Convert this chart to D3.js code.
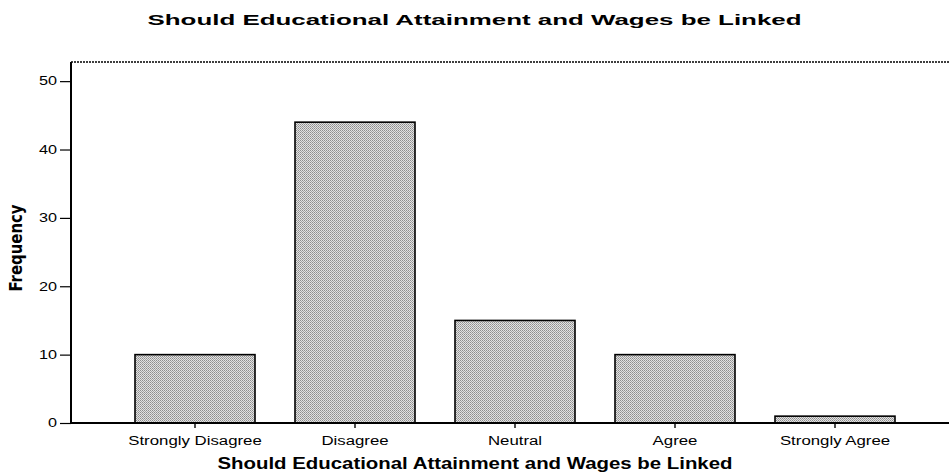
<!DOCTYPE html>
<html>
<head>
<meta charset="utf-8">
<script src="https://cdn.jsdelivr.net/npm/d3@7"></script>
<style>
  body { margin: 0; background: #fff; }
  svg { display: block; }
</style>
</head>
<body>
<svg width="949" height="473"></svg>
<script>
const categories = ['Strongly Disagree', 'Disagree', 'Neutral', 'Agree', 'Strongly Agree'];
const frequencies = [10, 44, 15, 10, 1];
const yTicks = [0, 10, 20, 30, 40, 50];
const titleText = 'Should Educational Attainment and Wages be Linked';

const width = 949, height = 473;
const margin = { top: 62, left: 71, bottom: 423 };

const svg = d3.select('svg');

// dotted grey fill like the old print
const defs = svg.append('defs');
const pat = defs.append('pattern')
  .attr('id', 'dots')
  .attr('patternUnits', 'userSpaceOnUse')
  .attr('width', 2)
  .attr('height', 2);
pat.append('rect').attr('width', 2).attr('height', 2).attr('fill', '#e2e2e2');
pat.append('rect').attr('width', 1).attr('height', 1).attr('fill', '#8e8e8e');
pat.append('rect').attr('x', 1).attr('y', 1).attr('width', 1).attr('height', 1).attr('fill', '#a4a4a4');

// plot runs past the right edge of the picture
const x = d3.scaleBand()
  .domain(categories)
  .range([margin.left, 959])
  .paddingInner(0.25)
  .paddingOuter(0.4);

const y = d3.scaleLinear()
  .domain([0, 52.8])
  .range([margin.bottom, margin.top]);

const stretch = (sel, k) => sel.each(function () {
  const len = this.getComputedTextLength();
  d3.select(this).attr('textLength', len * k).attr('lengthAdjust', 'spacingAndGlyphs');
});

// frame (top + left)
svg.append('line')
  .attr('x1', margin.left).attr('x2', width + 5)
  .attr('y1', margin.top).attr('y2', margin.top)
  .attr('stroke', '#000').attr('stroke-width', 1.5)
  .attr('stroke-dasharray', '2,1');

// bars
svg.append('g')
  .selectAll('rect')
  .data(frequencies)
  .join('rect')
  .attr('x', (d, i) => x(categories[i]))
  .attr('y', d => y(d))
  .attr('width', x.bandwidth())
  .attr('height', d => y(0) - y(d))
  .attr('fill', 'url(#dots)')
  .attr('stroke', '#000')
  .attr('stroke-width', 1.6);

// y axis
const yAxis = svg.append('g')
  .attr('transform', `translate(${margin.left},0)`)
  .call(d3.axisLeft(y).tickValues(yTicks).tickSize(11).tickPadding(3));
yAxis.select('.domain')
  .attr('d', `M0,${margin.top}V${margin.bottom}`)
  .attr('stroke-width', 2);
yAxis.selectAll('.tick line').attr('stroke-width', 1.2);
yAxis.selectAll('.tick text')
  .attr('font-family', 'Arial, "Liberation Sans", sans-serif')
  .attr('font-size', 12)
  .attr('fill', '#000')
  .call(stretch, 1.35);

// x axis
const xAxis = svg.append('g')
  .attr('transform', `translate(0,${margin.bottom})`)
  .call(d3.axisBottom(x).tickSize(5).tickPadding(8));
xAxis.select('.domain')
  .attr('d', `M${margin.left},0H${width + 5}`)
  .attr('stroke-width', 2);
xAxis.selectAll('.tick line').attr('stroke-width', 1.4);
xAxis.selectAll('.tick text')
  .attr('font-family', 'Arial, "Liberation Sans", sans-serif')
  .attr('font-size', 12)
  .attr('fill', '#000')
  .call(stretch, 1.4);

// title
svg.append('text')
  .attr('x', width / 2)
  .attr('y', 25)
  .attr('text-anchor', 'middle')
  .attr('font-family', 'Arial, "Liberation Sans", sans-serif')
  .attr('font-weight', 'bold')
  .attr('font-size', 15)
  .text(titleText)
  .attr('textLength', 654)
  .attr('lengthAdjust', 'spacingAndGlyphs');

// x axis title
svg.append('text')
  .attr('x', 475)
  .attr('y', 469)
  .attr('text-anchor', 'middle')
  .attr('font-family', 'Arial, "Liberation Sans", sans-serif')
  .attr('font-weight', 'bold')
  .attr('font-size', 16)
  .text(titleText)
  .attr('textLength', 515)
  .attr('lengthAdjust', 'spacingAndGlyphs');

// y axis title
svg.append('text')
  .attr('transform', 'translate(22,248) rotate(-90)')
  .attr('text-anchor', 'middle')
  .attr('font-family', '"Liberation Sans Narrow", "DejaVu Sans Condensed", sans-serif')
  .attr('font-weight', 'bold')
  .attr('font-size', 17)
  .text('Frequency')
  .attr('textLength', 87)
  .attr('lengthAdjust', 'spacingAndGlyphs');
</script>
</body>
</html>
